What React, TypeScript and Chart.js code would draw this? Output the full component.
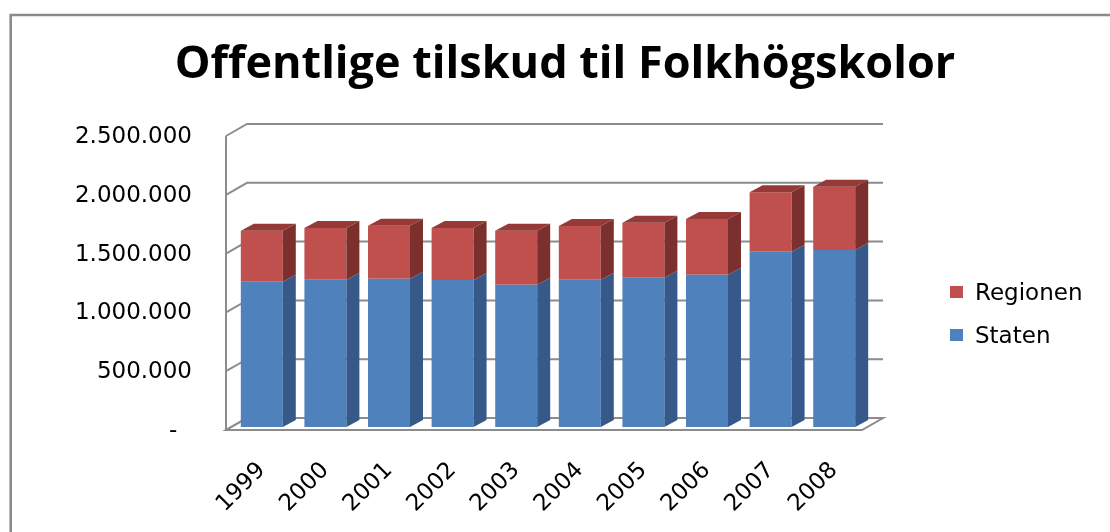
import React, { useEffect, useRef } from "react";
import { Chart, registerables } from "chart.js";

Chart.register(...registerables);

const years = ["1999", "2000", "2001", "2002", "2003", "2004", "2005", "2006", "2007", "2008"];
const staten = [1235000, 1252000, 1261000, 1250000, 1210000, 1252000, 1270000, 1295000, 1491000, 1505000];
const regionen = [434000, 440000, 451000, 442000, 459000, 457000, 467000, 474000, 505000, 538000];
const yTickValues = [0, 500000, 1000000, 1500000, 2000000, 2500000];
const yTickLabels = ["-  ", "500.000", "1.000.000", "1.500.000", "2.000.000", "2.500.000"];
const seriesNames = ["Staten", "Regionen"];
const seriesColors = ["#4f81bd", "#c0504d"];
const sideColors = ["#36598a", "#7c302e"];
const topColors = ["#4270a8", "#953a37"];
const titleText = "Offentlige tilskud til Folkhögskolor";

const BACK = { dx: 17, dy: -9 };
const FRONT = { dx: -4, dy: 3 };
const BAR_D = { dx: 13, dy: -7 };
const LABEL_FONT = "'DejaVu Sans', sans-serif";

const threeD = {
  id: "threeD",
  beforeDraw(chart: any) {
    const ctx = chart.ctx;
    ctx.save();
    ctx.fillStyle = "#ffffff";
    ctx.fillRect(0, 0, chart.width, chart.height);
    ctx.strokeStyle = "#8a8a8a";
    ctx.lineWidth = 2.6;
    ctx.beginPath();
    ctx.moveTo(10.7, chart.height);
    ctx.lineTo(10.7, 15);
    ctx.lineTo(chart.width, 15);
    ctx.stroke();
    ctx.restore();
  },
  beforeDatasetsDraw(chart: any) {
    const { ctx, chartArea: a, scales } = chart;
    const ys = scales.y;
    const yb = ys.getPixelForValue(0);
    const yt = ys.getPixelForValue(yTickValues[yTickValues.length - 1]);
    ctx.save();
    ctx.strokeStyle = "#8c8c8c";
    ctx.lineWidth = 2;
    ctx.lineJoin = "miter";
    ctx.beginPath();
    ctx.moveTo(a.left + FRONT.dx, yb + FRONT.dy);
    ctx.lineTo(a.right + FRONT.dx, yb + FRONT.dy);
    ctx.lineTo(a.right + BACK.dx, yb + BACK.dy);
    ctx.lineTo(a.left + BACK.dx, yb + BACK.dy);
    ctx.closePath();
    ctx.stroke();
    for (const v of yTickValues) {
      const py = ys.getPixelForValue(v);
      ctx.beginPath();
      ctx.moveTo(a.left + FRONT.dx, py + FRONT.dy);
      ctx.lineTo(a.left + BACK.dx, py + BACK.dy);
      ctx.lineTo(a.right + BACK.dx, py + BACK.dy);
      ctx.stroke();
    }
    ctx.beginPath();
    ctx.moveTo(a.left + FRONT.dx, yt + FRONT.dy);
    ctx.lineTo(a.left + FRONT.dx, yb + FRONT.dy);
    ctx.stroke();
    ctx.restore();
  },
  afterDatasetsDraw(chart: any) {
    const ctx = chart.ctx;
    const n = chart.data.datasets.length;
    ctx.save();
    for (let i = 0; i < n; i++) {
      const meta = chart.getDatasetMeta(i);
      meta.data.forEach((el: any) => {
        const { x, y, base, width } = el.getProps(["x", "y", "base", "width"], true);
        const x1 = x - width / 2;
        const x2 = x + width / 2;
        const top = Math.min(y, base);
        const bot = Math.max(y, base);
        ctx.fillStyle = sideColors[i];
        ctx.beginPath();
        ctx.moveTo(x2, top);
        ctx.lineTo(x2 + BAR_D.dx, top + BAR_D.dy);
        ctx.lineTo(x2 + BAR_D.dx, bot + BAR_D.dy);
        ctx.lineTo(x2, bot);
        ctx.closePath();
        ctx.fill();
        if (i === n - 1) {
          ctx.fillStyle = topColors[i];
          ctx.beginPath();
          ctx.moveTo(x1, top);
          ctx.lineTo(x1 + BAR_D.dx, top + BAR_D.dy);
          ctx.lineTo(x2 + BAR_D.dx, top + BAR_D.dy);
          ctx.lineTo(x2, top);
          ctx.closePath();
          ctx.fill();
        }
      });
    }
    ctx.restore();
  },
};

export default function App() {
  const ref = useRef<HTMLCanvasElement | null>(null);

  useEffect(() => {
    if (!ref.current) return;
    const chart = new Chart(ref.current, {
      type: "bar",
      data: {
        labels: years,
        datasets: [
          { label: seriesNames[0], data: staten, backgroundColor: seriesColors[0], borderWidth: 0 },
          { label: seriesNames[1], data: regionen, backgroundColor: seriesColors[1], borderWidth: 0 },
        ],
      },
      options: {
        responsive: false,
        animation: false,
        devicePixelRatio: 1,
        layout: { padding: { left: 20, right: 0, top: 0, bottom: 0 } },
        datasets: { bar: { barPercentage: 0.66, categoryPercentage: 1 } },
        plugins: {
          legend: { display: false },
          tooltip: { enabled: false },
          title: {
            display: true,
            text: titleText,
            color: "#000000",
            font: { family: "'Open Sans', sans-serif", size: 45, weight: "bold", lineHeight: 1.2 },
            padding: { top: 38, bottom: 41 },
          },
        },
        scales: {
          x: {
            stacked: true,
            grid: { display: false, drawTicks: false },
            border: { display: false },
            ticks: {
              autoSkip: false,
              minRotation: 45,
              maxRotation: 45,
              padding: 30,
              color: "#000000",
              font: { family: LABEL_FONT, size: 23 },
            },
            afterFit: (s: any) => {
              s.height = 105;
            },
          },
          y: {
            stacked: true,
            min: 0,
            max: 2500000,
            grid: { display: false, drawTicks: false },
            border: { display: false },
            afterBuildTicks: (s: any) => {
              s.ticks = yTickValues.map((v) => ({ value: v }));
            },
            ticks: {
              padding: 38,
              labelOffset: 4,
              color: "#000000",
              font: { family: LABEL_FONT, size: 23 },
              callback: (v: any) => {
                const idx = yTickValues.indexOf(Number(v));
                return idx >= 0 ? yTickLabels[idx] : "";
              },
            },
            afterFit: (s: any) => {
              s.width = 210;
            },
          },
          yRight: {
            position: "right",
            display: true,
            grid: { display: false, drawTicks: false },
            border: { display: false },
            ticks: { display: false },
            afterFit: (s: any) => {
              s.width = 244;
            },
          },
        },
      },
      plugins: [threeD],
    });
    return () => chart.destroy();
  }, []);

  const legendItems = [1, 0];

  return (
    <div style={{ position: "absolute", left: 0, top: 0, width: 1110, height: 532, background: "#fff" }}>
      <canvas ref={ref} width={1110} height={532} style={{ display: "block" }} />
      {legendItems.map((i, k) => (
        <div
          key={seriesNames[i]}
          style={{
            position: "absolute",
            left: 950,
            top: 278 + k * 43,
            height: 28,
            display: "flex",
            alignItems: "center",
            fontFamily: LABEL_FONT,
            fontSize: 23,
            color: "#000",
            whiteSpace: "nowrap",
          }}
        >
          <span style={{ display: "inline-block", width: 13, height: 12, background: seriesColors[i], marginRight: 12 }} />
          <span>{seriesNames[i]}</span>
        </div>
      ))}
    </div>
  );
}
